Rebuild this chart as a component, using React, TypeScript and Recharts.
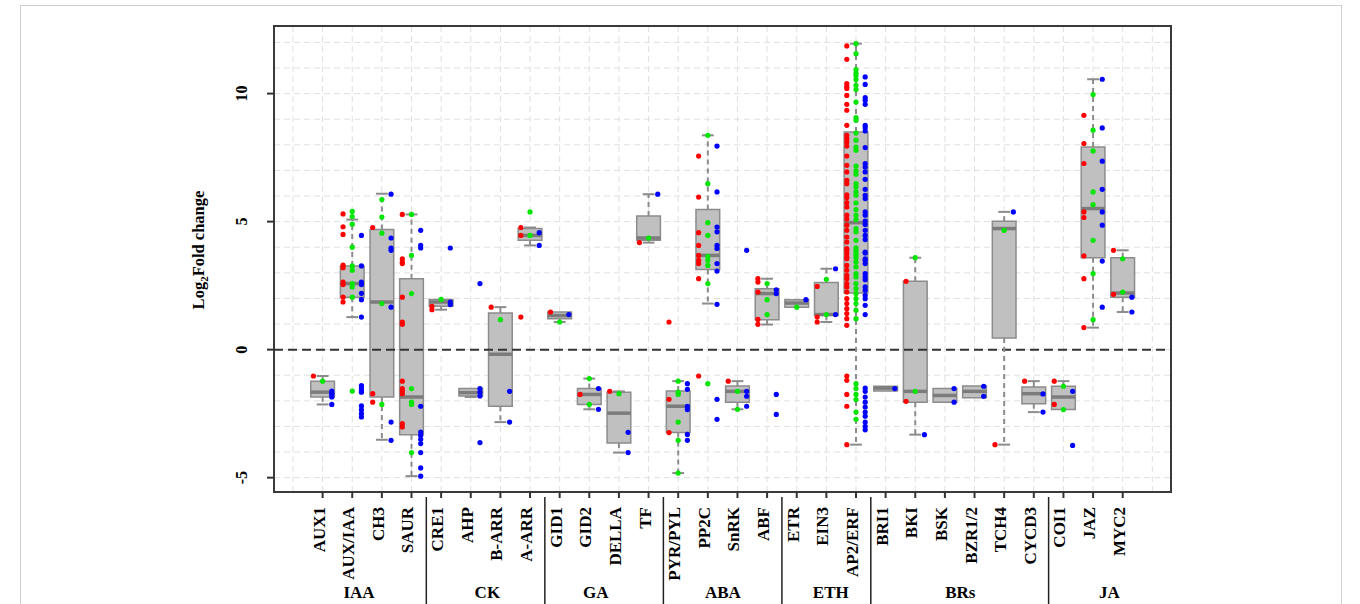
import React from 'react';
import {
  ComposedChart,
  Scatter,
  XAxis,
  YAxis,
  CartesianGrid,
  ReferenceArea,
  ReferenceLine,
} from 'recharts';

// gene families, left to right
const categories = [
  'AUX1', 'AUX/IAA', 'CH3', 'SAUR',
  'CRE1', 'AHP', 'B-ARR', 'A-ARR',
  'GID1', 'GID2', 'DELLA', 'TF',
  'PYR/PYL', 'PP2C', 'SnRK', 'ABF',
  'ETR', 'EIN3', 'AP2/ERF',
  'BRI1', 'BKI', 'BSK', 'BZR1/2', 'TCH4', 'CYCD3',
  'COI1', 'JAZ', 'MYC2',
];

const groupNames = ['IAA', 'CK', 'GA', 'ABA', 'ETH', 'BRs', 'JA'];
const groupSizes = [4, 4, 4, 4, 3, 6, 3];

// box statistics (log2 fold change)
const whiskerLow = [-2.14, 1.27, -3.52, -4.94, 1.56, -1.85, -2.83, 4.07, 1.08, -2.33, -4.02, 4.18, -4.82, 1.8, -2.33, 0.98, 1.66, 1.08, -3.71, -1.62, -3.32, -2.05, -1.88, -3.71, -2.44, -2.34, 0.86, 1.47];
const boxLow = [-1.85, 2.05, -1.85, -3.32, 1.69, -1.81, -2.21, 4.27, 1.21, -2.14, -3.65, 4.27, -3.24, 3.13, -2.05, 1.17, 1.66, 1.34, 2.21, -1.62, -2.05, -2.05, -1.88, 0.45, -2.11, -2.34, 3.59, 2.05];
const medians = [-1.66, 2.58, 1.86, -1.85, 1.86, -1.68, -0.18, 4.46, 1.33, -1.75, -2.48, 4.36, -2.21, 3.68, -1.63, 2.19, 1.82, 1.37, 4.96, -1.5, -1.63, -1.79, -1.63, 4.73, -1.72, -1.85, 5.51, 2.21];
const boxHigh = [-1.23, 3.27, 4.69, 2.77, 1.96, -1.52, 1.43, 4.73, 1.47, -1.52, -1.66, 5.22, -1.62, 5.47, -1.42, 2.38, 1.95, 2.62, 8.5, -1.43, 2.67, -1.52, -1.42, 5.01, -1.46, -1.43, 7.91, 3.59];
const whiskerHigh = [-1.03, 5.08, 6.09, 5.28, 1.96, -1.52, 1.66, 4.77, 1.47, -1.13, -1.63, 6.07, -1.23, 8.37, -1.23, 2.77, 1.95, 3.16, 11.95, -1.43, 3.59, -1.52, -1.42, 5.38, -1.23, -1.23, 10.56, 3.88];

// individual genes per family, one list per category
const redPoints = [
  [-1.03],
  [5.3, 4.8, 4.5, 3.3, 3.2, 2.64, 2.54, 2.05, 1.86],
  [4.77, -1.72, -2.05],
  [5.28, 3.55, 3.42, 3.36, 2.05, 1.08, 0.99, -1.23, -1.52, -1.62, -1.72, -2.89, -3.02],
  [1.69, 1.56],
  [],
  [1.66],
  [4.77, 4.46, 1.27],
  [1.47],
  [-1.75],
  [-1.63],
  [4.18],
  [1.08, -1.94, -3.24],
  [7.56, 5.96, 4.57, 4.07, 3.68, 3.49, 3.36, 2.77, -1.03],
  [-1.23],
  [2.77, 2.64, 2.25, 1.18, 0.99],
  [],
  [2.47, 1.27, 1.08],
  [11.86, 11.34, 10.39, 10.28, 10.2, 9.93, 9.58, 9.35, 8.76, 8.37, 8.24, 8.11, 7.95, 7.56, 7.2, 6.94, 6.61, 6.48, 6.05, 5.94, 5.74, 5.57, 5.25, 5.1, 4.86, 4.66, 4.4, 4.2, 3.95, 3.88, 3.75, 3.62, 3.55, 3.29, 3.1, 2.9, 2.77, 2.58, 2.45, 2.25, 1.99, 1.8, 1.6, 1.41, 1.21, 0.95, -1.03, -1.2, -1.75, -2.21, -3.71],
  [],
  [2.67, -2.02],
  [],
  [],
  [-3.71],
  [-1.23],
  [-1.23, -2.14],
  [9.15, 8.05, 7.27, 5.38, 5.16, 3.66, 2.77, 0.86],
  [3.88, 2.16],
];

const greenPoints = [
  [-1.23],
  [5.4, 5.2, 4.9, 4.0, 3.27, 3.1, 2.58, 2.45, 2.05, -1.62],
  [5.86, 5.18, 4.55, 1.8, -2.14],
  [5.28, 3.68, 2.19, -1.52, -2.05, -2.14, -4.02],
  [1.96],
  [],
  [1.17],
  [5.38, 4.46],
  [1.08],
  [-1.13, -2.14],
  [-1.72],
  [4.36],
  [-1.23, -1.66, -1.75, -2.83, -3.54, -4.82],
  [8.37, 6.48, 4.96, 4.46, 3.64, 3.49, 3.29, 2.58, -1.33],
  [-1.63, -2.33],
  [2.58, 1.95, 1.37],
  [1.66],
  [2.75, 1.37],
  [11.95, 11.56, 10.94, 10.8, 10.71, 10.55, 10.32, 10.16, 9.67, 9.06, 8.96, 8.46, 8.18, 7.91, 7.79, 7.17, 6.98, 6.85, 6.48, 6.35, 6.16, 6.03, 5.73, 5.47, 5.25, 5.08, 4.73, 4.6, 4.27, 3.98, 3.88, 3.77, 3.68, 3.59, 3.42, 3.23, 2.97, 2.84, 2.58, 2.38, 2.19, 1.99, 1.8, 1.54, 1.21, -1.33, -1.52, -1.75, -1.95, -2.44, -2.72],
  [],
  [3.59, -1.63],
  [],
  [],
  [4.66],
  [],
  [-1.43, -2.34],
  [9.96, 8.57, 7.76, 6.16, 5.66, 4.27, 2.97, 1.17],
  [3.55, 2.25],
];

const bluePoints = [
  [-1.62, -1.7, -1.76, -1.85, -2.14],
  [4.46, 3.27, 2.64, 2.54, 2.2, 1.95, 1.27, -1.4, -1.5, -1.6, -1.66, -2.2, -2.35, -2.5, -2.63],
  [6.07, 4.36, 3.97, 3.88, 1.66, -2.83, -3.54],
  [4.66, 4.07, 3.97, -2.21, -3.22, -3.35, -3.5, -3.67, -4.02, -4.62, -4.94],
  [3.97, 1.86, 1.76],
  [2.58, -1.52, -1.66, -1.81, -3.63],
  [-1.63, -2.83],
  [4.57, 4.07],
  [1.37],
  [-1.52, -2.33],
  [-3.23, -4.02],
  [6.07],
  [-1.33, -1.55, -2.21, -2.34, -3.31, -3.54],
  [7.95, 6.16, 4.79, 4.6, 4.07, 3.95, 3.36, 3.07, 1.77, -1.94, -2.72],
  [3.88, -1.63, -1.82, -2.21],
  [2.34, 2.19, -1.75, -2.53],
  [1.95],
  [3.16, 1.37],
  [10.65, 10.36, 9.84, 9.74, 9.58, 8.76, 8.67, 8.54, 7.89, 7.27, 7.13, 6.94, 6.65, 6.26, 6.03, 5.9, 5.38, 5.25, 5.02, 4.89, 4.66, 4.46, 4.3, 3.81, 3.77, 3.55, 3.49, 3.36, 2.97, 2.84, 2.73, 2.45, 2.32, 2.12, 1.99, 1.73, 1.37, -1.5, -1.63, -1.85, -2.05, -2.24, -2.44, -2.6, -2.83, -3.0, -3.13],
  [-1.52],
  [-3.32],
  [-1.52, -2.05],
  [-1.43, -1.82],
  [5.38],
  [-1.73, -2.44],
  [-1.63, -3.74],
  [10.56, 8.66, 7.36, 6.26, 5.38, 4.86, 3.46, 1.66],
  [2.05, 1.47],
];

const yTicks = [-5, 0, 5, 10];

// layout
const X_MIN = -1.64;
const X_MAX = 28.63;
const Y_MIN = -5.56;
const Y_MAX = 12.64;
const BOX_HALF = 0.4;
const CAP_HALF = 0.2;
const JITTER = 0.31;
const GROUP_LABEL_NUDGE = [-0.27, 0.06, -0.28, 0.01, 0.15, 0.02, 0.55];
const FONT = '"Liberation Serif", "Times New Roman", serif';
const TICK_SIZE = 6;
const TICK_MARGIN = 9;

const idx = categories.map((_, i) => i);

// group boundaries and label centres, in category units (never integers)
const groupStarts = groupSizes.map((_, g) => groupSizes.slice(0, g).reduce((a, b) => a + b, 0));
const boundaries = groupStarts.slice(1).map((s) => s - 0.5);
const groupCenters = groupStarts.map(
  (s, g) => s + (groupSizes[g] - 1) / 2 + GROUP_LABEL_NUDGE[g]
);
const xTicks = [...idx, ...boundaries, ...groupCenters].sort((a, b) => a - b);

const range = (a: number, b: number) =>
  Array.from({ length: b - a + 1 }, (_, k) => a + k);

const toPoints = (lists: number[][], shift: number) =>
  lists.flatMap((vals, i) => vals.map((y) => ({ x: i + shift, y })));

const redData = toPoints(redPoints, -JITTER);
const greenData = toPoints(greenPoints, 0);
const blueData = toPoints(bluePoints, JITTER);

const dot = (color: string) => (props: any) =>
  <circle cx={props.cx} cy={props.cy} r={2.6} fill={color} />;

// one tick renderer for category labels, group separators and group names
const BottomTick = ({ x, y, payload }: any) => {
  const v = payload.value;
  const axisY = y - TICK_SIZE - TICK_MARGIN;
  if (Number.isInteger(v)) {
    return (
      <g>
        <line x1={x} x2={x} y1={axisY} y2={axisY + TICK_SIZE} stroke="#333" strokeWidth={2} />
        <text
          x={x}
          y={y}
          dy={2}
          transform={`rotate(-90, ${x}, ${y})`}
          textAnchor="end"
          fontFamily={FONT}
          fontWeight="bold"
          fontSize={17}
          fill="#000"
        >
          {categories[v]}
        </text>
      </g>
    );
  }
  const g = groupCenters.indexOf(v);
  if (g < 0) {
    return <line x1={x} x2={x} y1={axisY + 5} y2={axisY + 115} stroke="#222" strokeWidth={1.5} />;
  }
  return (
    <text x={x} y={axisY + 106} textAnchor="middle" fontFamily={FONT} fontWeight="bold" fontSize={17} fill="#000">
      {groupNames[g]}
    </text>
  );
};

const ValueTick = ({ x, y, payload }: any) => (
  <text
    x={x}
    y={y}
    transform={`rotate(-90, ${x}, ${y})`}
    textAnchor="middle"
    fontFamily={FONT}
    fontWeight="bold"
    fontSize={16}
    fill="#000"
  >
    {payload.value}
  </text>
);

export default function App() {
  return (
    <div
      style={{
        position: 'absolute',
        left: 0,
        top: 0,
        width: 1360,
        height: 604,
        overflow: 'hidden',
        background: '#fff',
      }}
    >
      <div
        style={{
          position: 'absolute',
          left: 20,
          top: 5,
          width: 1320,
          height: 700,
          border: '1px solid #cfcfcf',
        }}
      />
      <ComposedChart
        width={1360}
        height={604}
        margin={{ top: 26, right: 189, bottom: 0, left: 234 }}
        style={{ position: 'absolute', left: 0, top: 0 }}
      >
        <CartesianGrid
          stroke="#e0e0e0"
          strokeDasharray="6 4"
          horizontalValues={range(-5, 12)}
          verticalValues={range(-1, 28)}
        />
        <XAxis
          dataKey="x"
          type="number"
          domain={[X_MIN, X_MAX]}
          allowDataOverflow
          ticks={xTicks}
          interval={0}
          axisLine={false}
          tickLine={false}
          tickSize={TICK_SIZE}
          tickMargin={TICK_MARGIN}
          height={112}
          tick={<BottomTick />}
        />
        <YAxis
          dataKey="y"
          type="number"
          domain={[Y_MIN, Y_MAX]}
          allowDataOverflow
          ticks={yTicks}
          interval={0}
          axisLine={false}
          tickLine={{ stroke: '#333', strokeWidth: 2 }}
          tickSize={7}
          tickMargin={20}
          width={40}
          tick={<ValueTick />}
        />

        <ReferenceLine y={0} stroke="#333" strokeWidth={2} strokeDasharray="9 5" />

        {idx.map((i) => (
          <ReferenceArea
            key={`box-${i}`}
            x1={i - BOX_HALF}
            x2={i + BOX_HALF}
            y1={boxLow[i]}
            y2={boxHigh[i]}
            fill="#c0c0c0"
            fillOpacity={1}
            stroke="#8c8c8c"
            strokeWidth={1.5}
            ifOverflow="visible"
          />
        ))}
        {idx.map((i) => (
          <ReferenceLine
            key={`med-${i}`}
            segment={[{ x: i - BOX_HALF, y: medians[i] }, { x: i + BOX_HALF, y: medians[i] }]}
            stroke="#7c7c7c"
            strokeWidth={3.5}
          />
        ))}
        {idx.filter((i) => whiskerHigh[i] - boxHigh[i] > 0.03).map((i) => (
          <ReferenceLine
            key={`wh-${i}`}
            segment={[{ x: i, y: boxHigh[i] }, { x: i, y: whiskerHigh[i] }]}
            stroke="#8c8c8c"
            strokeWidth={2}
            strokeDasharray="5 4"
          />
        ))}
        {idx.filter((i) => boxLow[i] - whiskerLow[i] > 0.03).map((i) => (
          <ReferenceLine
            key={`wl-${i}`}
            segment={[{ x: i, y: boxLow[i] }, { x: i, y: whiskerLow[i] }]}
            stroke="#8c8c8c"
            strokeWidth={2}
            strokeDasharray="5 4"
          />
        ))}
        {idx.filter((i) => whiskerHigh[i] - boxHigh[i] > 0.03).map((i) => (
          <ReferenceLine
            key={`ch-${i}`}
            segment={[{ x: i - CAP_HALF, y: whiskerHigh[i] }, { x: i + CAP_HALF, y: whiskerHigh[i] }]}
            stroke="#8c8c8c"
            strokeWidth={2}
          />
        ))}
        {idx.filter((i) => boxLow[i] - whiskerLow[i] > 0.03).map((i) => (
          <ReferenceLine
            key={`cl-${i}`}
            segment={[{ x: i - CAP_HALF, y: whiskerLow[i] }, { x: i + CAP_HALF, y: whiskerLow[i] }]}
            stroke="#8c8c8c"
            strokeWidth={2}
          />
        ))}

        <Scatter data={redData} shape={dot('#ff0000')} isAnimationActive={false} />
        <Scatter data={greenData} shape={dot('#00e600')} isAnimationActive={false} />
        <Scatter data={blueData} shape={dot('#0000ff')} isAnimationActive={false} />

        <ReferenceArea
          x1={X_MIN}
          x2={X_MAX}
          y1={Y_MIN}
          y2={Y_MAX}
          fill="none"
          stroke="#3a3a3a"
          strokeWidth={2}
          ifOverflow="visible"
        />
      </ComposedChart>
      <svg
        width={1360}
        height={604}
        style={{ position: 'absolute', left: 0, top: 0, pointerEvents: 'none' }}
      >
        <text
          x={204}
          y={250}
          transform="rotate(-90, 204, 250)"
          textAnchor="middle"
          fontFamily={FONT}
          fontWeight="bold"
          fontSize={16.5}
          fill="#000"
        >
          Log<tspan fontSize={11} dy={4}>2</tspan>
          <tspan dy={-4}>Fold change</tspan>
        </text>
      </svg>
    </div>
  );
}
